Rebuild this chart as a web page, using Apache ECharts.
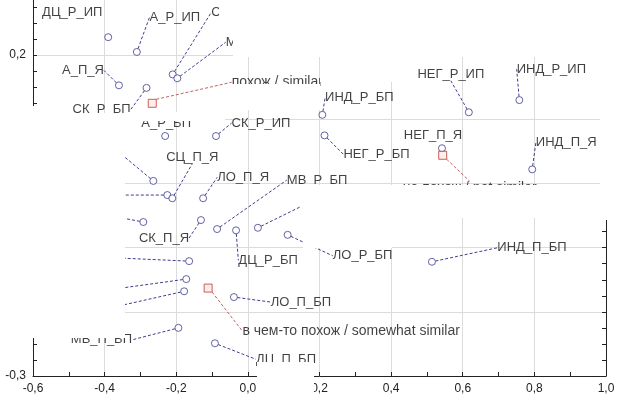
<!DOCTYPE html>
<html>
<head>
<meta charset="utf-8">
<script src="https://cdn.jsdelivr.net/npm/echarts@6/dist/echarts.min.js"></script>
<style>
  html, body { margin: 0; padding: 0; background: #fff; }
  #chart { width: 618px; height: 399px; }
</style>
</head>
<body>
<div id="chart"></div>
<script>
// row / column points (blue circles)
const pointNames = ['ДЦ_Р_ИП', 'А_Р_ИП', 'СЦ_Р_ИП', 'МВ_Р_ИП', 'А_П_Я', 'СК_Р_БП', 'А_Р_БП', 'СК_Р_ИП',
  'ДЦ_П_Я', 'А_Р_Я', 'СЦ_П_Я', 'ЛО_П_Я', 'МВ_Р_БП', 'СЦ_Р_Я', 'СК_П_Я', 'ДЦ_Р_БП', 'МВ_П_Я', 'ЛО_Р_БП',
  'ДЦ_Р_Я', 'СК_Р_Я', 'ЛО_Р_Я', 'ЛО_П_БП', 'МВ_П_БП', 'ДЦ_П_БП', 'ИНД_П_БП', 'ИНД_Р_БП', 'НЕГ_Р_БП',
  'НЕГ_Р_ИП', 'ИНД_Р_ИП', 'НЕГ_П_Я', 'ИНД_П_Я'];
const pointX = [-0.39, -0.31, -0.21, -0.197, -0.36, -0.283, -0.231, -0.089,
  -0.264, -0.225, -0.211, -0.125, -0.086, -0.292, -0.131, -0.033, 0.028, 0.111,
  -0.164, -0.172, -0.178, -0.039, -0.194, -0.092, 0.514, 0.208, 0.214,
  0.617, 0.758, 0.542, 0.794];
const pointY = [0.228, 0.205, 0.170, 0.164, 0.153, 0.149, 0.074, 0.074,
  0.004, -0.018, -0.023, -0.023, -0.071, -0.060, -0.057, -0.073, -0.069, -0.080,
  -0.121, -0.149, -0.168, -0.177, -0.225, -0.249, -0.122, 0.107, 0.075,
  0.111, 0.130, 0.055, 0.022];

// group centroids (red squares)
const groupNames = ['похож / similar', 'в чем-то похож / somewhat similar', 'не похож / not similar'];
const groupX = [-0.267, -0.111, 0.544];
const groupY = [0.125, -0.163, 0.044];

const xTicks = [-0.6, 1.0, 0.2];   // min, max, step
const yTicks = [-0.3, 0.3, 0.1];

// label placement (px from the marker)
const pointLabelOffsets = [[-36, -25], [38, -35], [69, -62], [79, -36], [-36, -15], [-45, 22], [1, -13], [45, -13],
  [-57, -26], [-71, 0], [20, -41], [40, -21], [100, -49], [-47, -4], [-37, 18], [32, 30], [73, -23], [75, 21],
  [-93, -3], [-90, 9], [-88, 14], [67, 5], [-77, 12], [71, 16], [100, -14], [37, -17], [52, 19],
  [-18, -38], [32, -31], [-9, -13], [34, -27]];
const noLeader = [0, 6, 29];
const groupLabelOffsets = [[125, -21], [143, 43], [27, 33]];

// blanked-out patches of the original picture
const blanks = [
  [219, 0, 399, 32], [233, 32, 385, 25], [320, 57, 95, 25], [228, 84, 92, 26], [600, 0, 18, 220],
  [0, 106, 45, 7], [0, 113, 125, 225], [125, 112, 100, 9],
  [300, 185, 318, 33], [303, 218, 89, 30], [257, 362, 57, 37]
];

const fmt = v => v.toFixed(1).replace('.', ',').replace('-0,0', '0,0');
const dashed = {color: '#3d3d8f', type: [3, 2], width: 1};

const chart = echarts.init(document.getElementById('chart'));
chart.setOption({
  animation: false,
  textStyle: {fontFamily: 'Liberation Sans, Arial, sans-serif'},
  grid: {left: 33, right: 12, top: -9, bottom: 23, outerBoundsMode: 'none', containLabel: false},
  xAxis: {
    type: 'value', min: xTicks[0], max: xTicks[1], interval: xTicks[2],
    axisLine: {onZero: false, lineStyle: {color: '#222'}},
    axisTick: {inside: true, length: 4, lineStyle: {color: '#222'}},
    minorTick: {show: true, splitNumber: 2, length: 4, lineStyle: {color: '#222'}},
    splitLine: {lineStyle: {color: '#dcdcdc'}},
    axisLabel: {formatter: fmt, fontSize: 12, color: '#222', margin: 7}
  },
  yAxis: [{
    type: 'value', min: yTicks[0], max: yTicks[1], interval: yTicks[2],
    axisLine: {show: true, onZero: false, lineStyle: {color: '#222'}},
    axisTick: {show: true, inside: true, length: 4, lineStyle: {color: '#222'}},
    minorTick: {show: true, splitNumber: 4, length: 4, lineStyle: {color: '#222'}},
    splitLine: {lineStyle: {color: '#dcdcdc'}},
    axisLabel: {formatter: fmt, fontSize: 12, color: '#222', margin: 7}
  }, {
    type: 'value', position: 'right', min: yTicks[0], max: yTicks[1], interval: yTicks[2],
    axisLine: {show: true, onZero: false, lineStyle: {color: '#222'}},
    axisTick: {show: true, inside: true, length: 4, lineStyle: {color: '#222'}},
    minorTick: {show: true, splitNumber: 4, length: 4, lineStyle: {color: '#222'}},
    splitLine: {show: false},
    axisLabel: {show: false}
  }],
  series: [{
    type: 'scatter',
    symbol: 'circle',
    symbolSize: 7,
    itemStyle: {color: '#fff', borderColor: '#3d3d8f', borderWidth: 1},
    label: {show: true, position: 'inside', formatter: p => p.name, fontSize: 13, color: '#111'},
    labelLine: {show: true, lineStyle: dashed},
    labelLayout: p => ({dx: pointLabelOffsets[p.dataIndex][0], dy: pointLabelOffsets[p.dataIndex][1]}),
    data: pointNames.map((n, i) => ({
      name: n, value: [pointX[i], pointY[i]],
      labelLine: {show: noLeader.indexOf(i) < 0}
    })),
    z: 3
  }, {
    type: 'scatter',
    symbol: 'rect',
    symbolSize: 8,
    itemStyle: {color: '#fbeaea', borderColor: '#c0392b', borderWidth: 1},
    label: {show: true, position: 'inside', formatter: p => p.name, fontSize: 14, color: '#111'},
    labelLine: {show: true, lineStyle: {color: '#c06060', type: [3, 2], width: 1}},
    labelLayout: p => ({dx: groupLabelOffsets[p.dataIndex][0], dy: groupLabelOffsets[p.dataIndex][1]}),
    data: groupNames.map((n, i) => ({name: n, value: [groupX[i], groupY[i]]})),
    z: 4
  }],
  graphic: blanks.map(b => ({
    type: 'rect', z: 100,
    shape: {x: b[0], y: b[1], width: b[2], height: b[3]},
    style: {fill: '#fff'}
  }))
});
</script>
</body>
</html>
